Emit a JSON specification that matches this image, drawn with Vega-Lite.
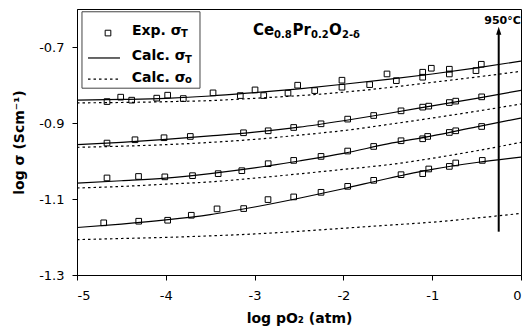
{
  "$schema": "https://vega.github.io/schema/vega-lite/v6.json",
  "width": 444,
  "height": 266,
  "autosize": {"type": "none"},
  "padding": {"left": 77, "top": 9, "right": 3, "bottom": 53},
  "config": {
    "font": "DejaVu Sans",
    "view": {"stroke": "black", "strokeWidth": 1},
    "axis": {"domainColor": "black", "tickColor": "black", "labelColor": "black", "titleColor": "black", "grid": false, "labelFontSize": 13, "titleFontSize": 14, "titleFontWeight": "bold", "tickSize": 5}
  },
  "datasets": {
    "calcT": [
      {"c":1,"x":-5,"y":-0.840},{"c":1,"x":-4.5,"y":-0.838},{"c":1,"x":-4,"y":-0.835},{"c":1,"x":-3.5,"y":-0.829},{"c":1,"x":-3,"y":-0.820},{"c":1,"x":-2.5,"y":-0.810},{"c":1,"x":-2,"y":-0.798},{"c":1,"x":-1.5,"y":-0.785},{"c":1,"x":-1,"y":-0.771},{"c":1,"x":-0.5,"y":-0.755},{"c":1,"x":0,"y":-0.737},
      {"c":2,"x":-5,"y":-0.957},{"c":2,"x":-4.5,"y":-0.951},{"c":2,"x":-4,"y":-0.943},{"c":2,"x":-3.5,"y":-0.934},{"c":2,"x":-3,"y":-0.924},{"c":2,"x":-2.5,"y":-0.911},{"c":2,"x":-2,"y":-0.894},{"c":2,"x":-1.5,"y":-0.875},{"c":2,"x":-1,"y":-0.855},{"c":2,"x":-0.5,"y":-0.835},{"c":2,"x":0,"y":-0.814},
      {"c":3,"x":-5,"y":-1.058},{"c":3,"x":-4.5,"y":-1.052},{"c":3,"x":-4,"y":-1.045},{"c":3,"x":-3.5,"y":-1.033},{"c":3,"x":-3,"y":-1.018},{"c":3,"x":-2.5,"y":-1.000},{"c":3,"x":-2,"y":-0.980},{"c":3,"x":-1.5,"y":-0.955},{"c":3,"x":-1,"y":-0.934},{"c":3,"x":-0.5,"y":-0.910},{"c":3,"x":0,"y":-0.887},
      {"c":4,"x":-5,"y":-1.175},{"c":4,"x":-4.5,"y":-1.166},{"c":4,"x":-4,"y":-1.155},{"c":4,"x":-3.5,"y":-1.141},{"c":4,"x":-3,"y":-1.121},{"c":4,"x":-2.5,"y":-1.098},{"c":4,"x":-2,"y":-1.073},{"c":4,"x":-1.5,"y":-1.046},{"c":4,"x":-1,"y":-1.022},{"c":4,"x":-0.5,"y":-1.004},{"c":4,"x":0,"y":-0.990}
    ],
    "calcO": [
      {"c":1,"x":-5,"y":-0.847},{"c":1,"x":-4.5,"y":-0.846},{"c":1,"x":-4,"y":-0.844},{"c":1,"x":-3.5,"y":-0.841},{"c":1,"x":-3,"y":-0.835},{"c":1,"x":-2.5,"y":-0.828},{"c":1,"x":-2,"y":-0.819},{"c":1,"x":-1.5,"y":-0.807},{"c":1,"x":-1,"y":-0.793},{"c":1,"x":-0.5,"y":-0.779},{"c":1,"x":0,"y":-0.764},
      {"c":2,"x":-5,"y":-0.964},{"c":2,"x":-4.5,"y":-0.961},{"c":2,"x":-4,"y":-0.957},{"c":2,"x":-3.5,"y":-0.951},{"c":2,"x":-3,"y":-0.943},{"c":2,"x":-2.5,"y":-0.932},{"c":2,"x":-2,"y":-0.920},{"c":2,"x":-1.5,"y":-0.904},{"c":2,"x":-1,"y":-0.887},{"c":2,"x":-0.5,"y":-0.869},{"c":2,"x":0,"y":-0.850},
      {"c":3,"x":-5,"y":-1.071},{"c":3,"x":-4.5,"y":-1.067},{"c":3,"x":-4,"y":-1.061},{"c":3,"x":-3.5,"y":-1.055},{"c":3,"x":-3,"y":-1.045},{"c":3,"x":-2.5,"y":-1.034},{"c":3,"x":-2,"y":-1.022},{"c":3,"x":-1.5,"y":-1.010},{"c":3,"x":-1,"y":-0.993},{"c":3,"x":-0.5,"y":-0.973},{"c":3,"x":0,"y":-0.951},
      {"c":4,"x":-5,"y":-1.207},{"c":4,"x":-4.5,"y":-1.204},{"c":4,"x":-4,"y":-1.201},{"c":4,"x":-3.5,"y":-1.197},{"c":4,"x":-3,"y":-1.192},{"c":4,"x":-2.5,"y":-1.185},{"c":4,"x":-2,"y":-1.177},{"c":4,"x":-1.5,"y":-1.169},{"c":4,"x":-1,"y":-1.161},{"c":4,"x":-0.5,"y":-1.150},{"c":4,"x":0,"y":-1.138}
    ],
    "exp": [
      {"c":1,"x":-4.662,"y":-0.8436},{"c":1,"x":-4.508,"y":-0.8320},{"c":1,"x":-4.384,"y":-0.8399},{"c":1,"x":-4.102,"y":-0.8346},{"c":1,"x":-3.979,"y":-0.8268},{"c":1,"x":-3.803,"y":-0.8357},{"c":1,"x":-3.468,"y":-0.8207},{"c":1,"x":-3.161,"y":-0.8278},{"c":1,"x":-2.995,"y":-0.8129},{"c":1,"x":-2.897,"y":-0.8278},{"c":1,"x":-2.624,"y":-0.8215},{"c":1,"x":-2.515,"y":-0.8005},{"c":1,"x":-2.323,"y":-0.8147},{"c":1,"x":-2.016,"y":-0.7874},{"c":1,"x":-2.016,"y":-0.8058},{"c":1,"x":-1.704,"y":-0.7990},{"c":1,"x":-1.509,"y":-0.7709},{"c":1,"x":-1.404,"y":-0.7885},{"c":1,"x":-1.107,"y":-0.7664},{"c":1,"x":-1.107,"y":-0.7795},{"c":1,"x":-1.010,"y":-0.7559},{"c":1,"x":-0.807,"y":-0.7585},{"c":1,"x":-0.807,"y":-0.7709},{"c":1,"x":-0.507,"y":-0.7622},{"c":1,"x":-0.447,"y":-0.7454},
      {"c":2,"x":-4.662,"y":-0.9528},{"c":2,"x":-4.347,"y":-0.9441},{"c":2,"x":-4.020,"y":-0.9388},{"c":2,"x":-3.724,"y":-0.9354},{"c":2,"x":-3.125,"y":-0.9257},{"c":2,"x":-2.847,"y":-0.9205},{"c":2,"x":-2.560,"y":-0.9118},{"c":2,"x":-2.252,"y":-0.9021},{"c":2,"x":-1.952,"y":-0.8898},{"c":2,"x":-1.659,"y":-0.8803},{"c":2,"x":-1.351,"y":-0.8680},{"c":2,"x":-1.107,"y":-0.8583},{"c":2,"x":-1.039,"y":-0.8556},{"c":2,"x":-0.807,"y":-0.8462},{"c":2,"x":-0.735,"y":-0.8425},{"c":2,"x":-0.443,"y":-0.8312},
      {"c":3,"x":-4.662,"y":-1.0446},{"c":3,"x":-4.307,"y":-1.0407},{"c":3,"x":-4.011,"y":-1.0417},{"c":3,"x":-3.699,"y":-1.0386},{"c":3,"x":-3.410,"y":-1.0333},{"c":3,"x":-3.144,"y":-1.0255},{"c":3,"x":-2.847,"y":-1.0071},{"c":3,"x":-2.560,"y":-0.9984},{"c":3,"x":-2.252,"y":-0.9879},{"c":3,"x":-1.952,"y":-0.9738},{"c":3,"x":-1.659,"y":-0.9617},{"c":3,"x":-1.351,"y":-0.9467},{"c":3,"x":-1.107,"y":-0.9415},{"c":3,"x":-1.051,"y":-0.9354},{"c":3,"x":-0.807,"y":-0.9249},{"c":3,"x":-0.735,"y":-0.9205},{"c":3,"x":-0.443,"y":-0.9092},
      {"c":4,"x":-4.699,"y":-1.1627},{"c":4,"x":-4.305,"y":-1.1585},{"c":4,"x":-3.979,"y":-1.1559},{"c":4,"x":-3.713,"y":-1.1428},{"c":4,"x":-3.423,"y":-1.1260},{"c":4,"x":-3.123,"y":-1.1252},{"c":4,"x":-2.849,"y":-1.1016},{"c":4,"x":-2.560,"y":-1.0945},{"c":4,"x":-2.252,"y":-1.0824},{"c":4,"x":-1.952,"y":-1.0667},{"c":4,"x":-1.659,"y":-1.0509},{"c":4,"x":-1.351,"y":-1.0360},{"c":4,"x":-1.107,"y":-1.0333},{"c":4,"x":-1.039,"y":-1.0210},{"c":4,"x":-0.807,"y":-1.0142},{"c":4,"x":-0.735,"y":-1.0052},{"c":4,"x":-0.436,"y":-0.9984}
    ]
  },
  "encoding": {
    "x": {"field": "x", "type": "quantitative", "scale": {"domain": [-5, 0], "nice": false, "zero": false}, "axis": {"values": [-5, -4, -3, -2, -1, 0], "labelExpr": "replace(format(datum.value, 'd'), '\u2212', '-')", "labelPadding": 9, "title": "log pO\u2082 (atm)", "titlePadding": 9}},
    "y": {"field": "y", "type": "quantitative", "scale": {"domain": [-1.3, -0.6], "nice": false, "zero": false}, "axis": {"values": [-1.3, -1.1, -0.9, -0.7], "labelExpr": "replace(format(datum.value, '.1f'), '\u2212', '-')", "labelPadding": 8, "title": "log \u03c3 (Scm\u207b\u00b9)", "titlePadding": 12}}
  },
  "layer": [
    {"data": {"name": "calcO"}, "mark": {"type": "line", "color": "black", "strokeWidth": 1.2, "strokeDash": [2.5, 3], "interpolate": "monotone"}, "encoding": {"detail": {"field": "c"}}},
    {"data": {"name": "calcT"}, "mark": {"type": "line", "color": "black", "strokeWidth": 1.2, "interpolate": "monotone"}, "encoding": {"detail": {"field": "c"}}},
    {"data": {"name": "exp"}, "mark": {"type": "point", "shape": "square", "size": 32, "filled": false, "stroke": "black", "strokeWidth": 1, "opacity": 1}},
    {"data": {"values": [{"x": -0.251, "y": -1.186, "y2": -0.66}]}, "mark": {"type": "rule", "color": "black", "strokeWidth": 2}, "encoding": {"y2": {"field": "y2"}}},
    {"data": {"values": [{"x": -0.251, "y": -0.6575}]}, "mark": {"type": "point", "shape": "M0,-1L0.65,1L-0.65,1Z", "size": 64, "filled": true, "color": "black", "opacity": 1}},
    {"data": {"values": [{"x": -0.208, "y": -0.6396, "t": "950\u00b0C"}]}, "mark": {"type": "text", "font": "DejaVu Sans", "fontWeight": "bold", "fontSize": 11, "align": "center", "baseline": "alphabetic", "color": "black"}, "encoding": {"text": {"field": "t"}}},
    {"data": {"values": [{"x": -4.944, "x2": -3.615, "y": -0.6073, "y2": -0.8084}]}, "mark": {"type": "rect", "fill": null, "fillOpacity": 0, "stroke": "#444", "strokeWidth": 1}, "encoding": {"x2": {"field": "x2"}, "y2": {"field": "y2"}}},
    {"data": {"values": [{"x": -4.651, "y": -0.6633}]}, "mark": {"type": "point", "shape": "square", "size": 32, "filled": false, "stroke": "black", "strokeWidth": 1, "opacity": 1}},
    {"data": {"values": [{"x": -4.876, "x2": -4.516, "y": -0.7289}]}, "mark": {"type": "rule", "color": "black", "strokeWidth": 1.2}, "encoding": {"x2": {"field": "x2"}}},
    {"data": {"values": [{"x": -4.876, "x2": -4.516, "y": -0.7848}]}, "mark": {"type": "rule", "color": "black", "strokeWidth": 1.2, "strokeDash": [2.5, 3]}, "encoding": {"x2": {"field": "x2"}}},
    {"data": {"values": [
      {"x": -4.381, "y": -0.6685, "t": "Exp. \u03c3"},
      {"x": -4.384, "y": -0.7341, "t": "Calc. \u03c3"},
      {"x": -4.384, "y": -0.7910, "t": "Calc. \u03c3"}
    ]}, "mark": {"type": "text", "font": "DejaVu Sans", "fontWeight": "bold", "fontSize": 14, "align": "left", "baseline": "alphabetic", "color": "black"}, "encoding": {"text": {"field": "t"}}},
    {"data": {"values": [
      {"x": -3.018, "y": -0.6685, "t": "Ce"},
      {"x": -2.573, "y": -0.6685, "t": "Pr"},
      {"x": -2.162, "y": -0.6685, "t": "O"}
    ]}, "mark": {"type": "text", "font": "DejaVu Sans", "fontWeight": "bold", "fontSize": 15, "align": "left", "baseline": "alphabetic", "color": "black"}, "encoding": {"text": {"field": "t"}}},
    {"data": {"values": [
      {"x": -3.830, "y": -0.6745, "t": "T"},
      {"x": -3.785, "y": -0.7410, "t": "T"},
      {"x": -3.785, "y": -0.7953, "t": "o"},
      {"x": -2.782, "y": -0.6750, "t": "0.8"},
      {"x": -2.365, "y": -0.6750, "t": "0.2"},
      {"x": -2.016, "y": -0.6750, "t": "2-\u03b4"}
    ]}, "mark": {"type": "text", "font": "DejaVu Sans", "fontWeight": "bold", "fontSize": 10, "align": "left", "baseline": "alphabetic", "color": "black"}, "encoding": {"text": {"field": "t"}}}
  ]
}
